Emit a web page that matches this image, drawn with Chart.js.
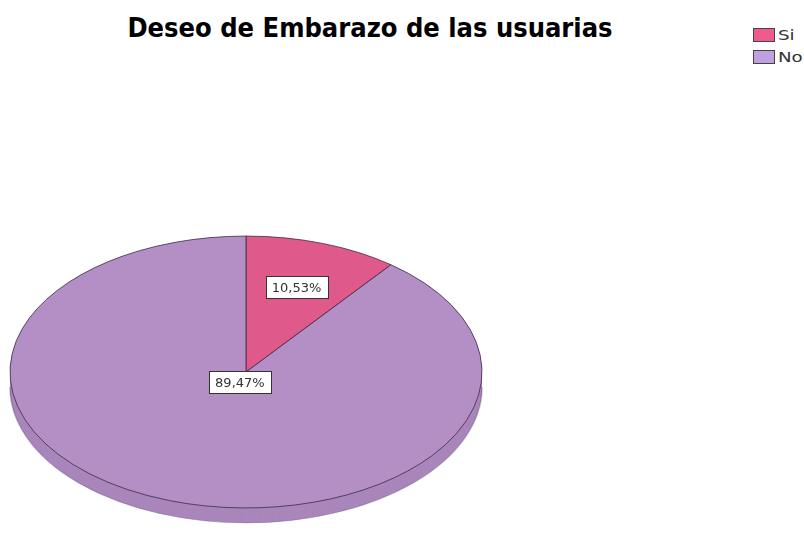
<!DOCTYPE html>
<html lang="es">
<head>
<meta charset="utf-8">
<title>Deseo de Embarazo de las usuarias</title>
<script src="https://cdn.jsdelivr.net/npm/chart.js@4.4.1/dist/chart.umd.min.js"></script>
<style>
    html, body {
        margin: 0;
        padding: 0;
        background: #ffffff;
        overflow: hidden;
    }
    #wrap {
        position: relative;
        width: 804px;
        height: 550px;
    }
    #pieChart {
        position: absolute;
        left: 0;
        top: 0;
    }
    #titulo {
        position: absolute;
        left: 0;
        top: 12px;
        width: 740px;
        text-align: center;
        font: bold 27px "DejaVu Sans", Verdana, sans-serif;
        color: #000;
        transform: scaleX(0.9);
        transform-origin: 370px 0;
    }
    #leyenda {
        position: absolute;
        left: 753px;
        top: 24px;
        font: 14px "DejaVu Sans", Verdana, sans-serif;
        color: #333;
        white-space: nowrap;
    }
    #leyenda .item {
        height: 22px;
        display: flex;
        align-items: center;
    }
    #leyenda .box {
        width: 20px;
        height: 12px;
        border: 1px solid #444;
        margin-right: 3px;
    }
    #leyenda .txt {
        display: inline-block;
        transform: scaleX(1.3);
        transform-origin: left center;
    }
</style>
</head>
<body>
<div id="wrap">
    <div id="titulo">Deseo de Embarazo de las usuarias</div>
    <div id="leyenda"></div>
    <canvas id="pieChart" width="804" height="550"></canvas>
</div>
<script>
// Datos del gráfico
const categorias = ["Si", "No"];
const porcentajes = [10.53, 89.47];
const coloresTapa = ["#e0598b", "#b48fc6"];
const coloresLado = ["#c0507a", "#a986bb"];
const coloresLeyenda = ["#ef5a8f", "#c0a0e0"];

// Inclinación de la elipse y grosor del lateral
const inclinacion = 0.576;
const grosor = 15;

// Posición radial de cada etiqueta (fracción del radio)
const posEtiqueta = [0.66, 0.08];

function formatoPct(v) {
    return v.toFixed(2).replace(".", ",") + "%";
}

// Leyenda
function initLeyenda() {
    const cont = document.getElementById("leyenda");
    categorias.forEach((cat, i) => {
        const item = document.createElement("div");
        item.className = "item";
        item.innerHTML =
            '<span class="box" style="background:' + coloresLeyenda[i] + '"></span>' +
            '<span class="txt">' + cat + "</span>";
        cont.appendChild(item);
    });
}

// Pastel en perspectiva: aplasta el eje vertical y dibuja el canto
const pastel3d = {
    id: "pastel3d",
    beforeDatasetsDraw(chart) {
        const meta = chart.getDatasetMeta(0);
        const ctx = chart.ctx;
        const cx = meta.data[0].x;
        const cy = meta.data[0].y;

        ctx.save();
        ctx.translate(cx, cy);
        ctx.scale(1, inclinacion);
        ctx.translate(-cx, -cy);

        // canto lateral
        for (let k = grosor; k >= 1; k--) {
            const dy = k / inclinacion;
            meta.data.forEach((arc, i) => {
                ctx.beginPath();
                ctx.moveTo(cx, cy + dy);
                ctx.arc(cx, cy + dy, arc.outerRadius, arc.startAngle, arc.endAngle);
                ctx.closePath();
                ctx.fillStyle = coloresLado[i];
                ctx.fill();
            });
        }

        // borde inferior del canto
        const r = meta.data[0].outerRadius;
        ctx.beginPath();
        ctx.arc(cx, cy + grosor / inclinacion, r, 0, Math.PI);
        ctx.lineWidth = 1.5;
        ctx.strokeStyle = "rgba(120, 95, 140, 0.5)";
        ctx.stroke();
    },
    afterDatasetsDraw(chart) {
        const ctx = chart.ctx;
        ctx.restore();

        // etiquetas de porcentaje
        const meta = chart.getDatasetMeta(0);
        ctx.save();
        ctx.font = '13px "DejaVu Sans", Verdana, sans-serif';
        ctx.textAlign = "center";
        ctx.textBaseline = "middle";
        meta.data.forEach((arc, i) => {
            const mid = (arc.startAngle + arc.endAngle) / 2;
            const d = arc.outerRadius * posEtiqueta[i];
            const x = arc.x + Math.cos(mid) * d;
            const y = arc.y + Math.sin(mid) * d * inclinacion;
            const txt = formatoPct(porcentajes[i]);
            const w = Math.round(ctx.measureText(txt).width + 12);
            const h = 22;
            const x0 = Math.round(x - w / 2) + 0.5;
            const y0 = Math.round(y - h / 2) + 0.5;
            ctx.fillStyle = "#ffffff";
            ctx.fillRect(x0, y0, w, h);
            ctx.strokeStyle = "#333333";
            ctx.lineWidth = 1;
            ctx.strokeRect(x0, y0, w, h);
            ctx.fillStyle = "#333333";
            ctx.fillText(txt, x, y + 1);
        });
        ctx.restore();
    },
};

function initPastel() {
    const ctx = document.getElementById("pieChart");
    new Chart(ctx, {
        type: "pie",
        data: {
            labels: categorias,
            datasets: [
                {
                    data: porcentajes,
                    backgroundColor: coloresTapa,
                    borderColor: "#3a2a45",
                    borderWidth: 1,
                    hoverOffset: 0,
                },
            ],
        },
        options: {
            responsive: false,
            animation: false,
            events: [],
            radius: 236,
            layout: {
                padding: { left: 10, right: 322, top: 194, bottom: 0 },
            },
            plugins: {
                legend: { display: false },
                tooltip: { enabled: false },
                title: { display: false },
            },
        },
        plugins: [pastel3d],
    });
}

document.addEventListener("DOMContentLoaded", function () {
    initLeyenda();
    initPastel();
});
</script>
</body>
</html>
